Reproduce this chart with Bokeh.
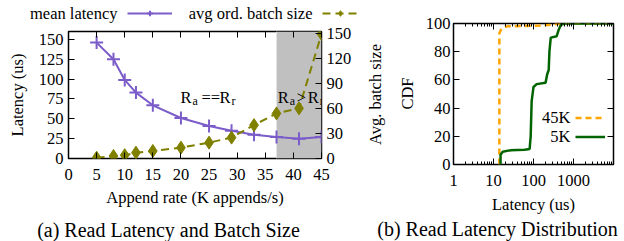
import math
from bokeh.plotting import figure
from bokeh.models import (Range1d, LinearAxis, LogAxis, BoxAnnotation, Span, Legend,
                          LegendItem, Label, FixedTicker, BasicTickFormatter)
from bokeh.layouts import column, row
from bokeh.embed import file_html
from bokeh.resources import INLINE

FONT = "Liberation Serif"
FS = "16.5px"
PURPLE = "#7b5cc9"
OLIVE = "#808000"
ORANGE = "#ffa500"
GREEN = "#006400"

# ---- data: (a) read latency & batch size ----
append_rate = [5, 8, 10, 12, 15, 20, 25, 29, 33, 37, 41, 45]
mean_latency = [146, 125, 99, 83, 67, 51, 41, 35, 30, 27, 25, 27]
batch_size = [1, 3, 4, 7, 9, 13, 19, 25, 40, 54, 60, 149]
rate_ticks = [0, 5, 10, 15, 20, 25, 30, 35, 40, 45]
latency_ticks = [0, 25, 50, 75, 100, 125, 150]
batch_ticks = [0, 30, 60, 90, 120, 150]
shade_start, shade_end = 37, 45

# ---- data: (b) read latency distribution ----
lat_45k = [14, 14, 15, 17, 22, 60, 150, 300, 450, 10000]
cdf_45k = [0, 93, 95, 97, 98, 98.3, 98.6, 99.3, 100, 100]
lat_5k = [15, 15, 17, 25, 60, 80, 85, 90, 100, 120, 200, 220, 240, 250, 270, 380, 420, 480, 600, 10000]
cdf_5k = [0, 7, 9, 10, 10.5, 11, 20, 45, 55, 57, 58, 64, 67, 80, 90, 91, 95, 99, 100, 100]
cdf_ticks = [0, 20, 40, 60, 80, 100]
dist_ticks = [1, 10, 100, 1000]
dist_minor = [m * d for d in (1, 10, 100, 1000) for m in range(2, 10)]

NAN = [float("nan")]   # legend-only renderers draw nothing themselves


def style_axis(ax, show_labels=True):
    ax.axis_line_color = None
    ax.major_tick_in = 6
    ax.major_tick_out = 0
    ax.minor_tick_in = 3
    ax.minor_tick_out = 0
    ax.major_tick_line_color = "black"
    ax.minor_tick_line_color = "black"
    ax.major_label_text_font = FONT
    ax.major_label_text_font_size = FS if show_labels else "1px"
    ax.major_label_text_color = "black"
    ax.axis_label_text_font = FONT
    ax.axis_label_text_font_size = FS
    ax.axis_label_text_font_style = "normal"
    ax.axis_label_text_color = "black"
    if not show_labels:
        ax.major_label_standoff = 0
        ax.major_label_text_alpha = 0


def style_fig(p):
    p.grid.visible = False
    p.outline_line_color = "black"
    p.outline_line_width = 1.5
    p.background_fill_color = "white"
    p.border_fill_color = "white"


def plain_fig(w, h):
    f = figure(width=w, height=h, x_range=Range1d(0, 1), y_range=Range1d(0, 1),
               output_backend="svg", toolbar_location=None, min_border=0,
               x_axis_location=None, y_axis_location=None)
    f.grid.visible = False
    f.outline_line_color = None
    return f


def txt(p, x, y, s, align="right", size=FS, units="screen", xo=0, yo=0,
        baseline="middle", angle=0.0):
    p.add_layout(Label(x=x, y=y, x_units=units, y_units=units, text=s,
                       text_align=align, text_baseline=baseline, text_font=FONT,
                       text_font_size=size, text_color="black",
                       x_offset=xo, y_offset=yo, angle=angle))


def sample_legend(items, loc, gw, gh):
    return Legend(items=items, location=loc, glyph_width=gw, glyph_height=gh,
                  label_width=1, label_standoff=0, padding=0, margin=0, spacing=0,
                  border_line_color=None, background_fill_alpha=0,
                  label_text_font_size="2px", label_text_alpha=0)


H = 218      # height of the chart row
TOP = 24     # legend strip above panel (a)

# ================= legend strip for (a) =================
ptop = plain_fig(360, TOP)
lg_lat_line = ptop.line(x=NAN, y=NAN, color=PURPLE, line_width=2)
lg_lat_pts = ptop.scatter(x=NAN, y=NAN, marker="cross", size=13, line_width=2, color=PURPLE)
lg_b_line = ptop.line(x=NAN, y=NAN, color=OLIVE, line_width=2, line_dash="8 5")
lg_b_pts = ptop.scatter(x=NAN, y=NAN, marker="diamond", size=13, color=OLIVE)
ptop.add_layout(sample_legend([LegendItem(label="x", renderers=[lg_lat_line, lg_lat_pts])],
                              (127, 4), 45, 14))
ptop.add_layout(sample_legend([LegendItem(label="x", renderers=[lg_b_line, lg_b_pts])],
                              (322, 4), 36, 14))
txt(ptop, 117, 11, "mean latency")
txt(ptop, 312, 11, "avg ord. batch size")

# ================= (a) =================
p1 = figure(width=360, height=H - TOP, x_range=Range1d(0, 45), y_range=Range1d(0, 160),
            output_backend="svg", toolbar_location=None,
            min_border_left=68, min_border_right=39, min_border_top=31 - TOP,
            min_border_bottom=H - 158)
style_fig(p1)
p1.extra_y_ranges = {"batch": Range1d(0, 152)}

p1.xaxis.ticker = FixedTicker(ticks=rate_ticks)
p1.xaxis.axis_label = "Append rate (K appends/s)"
p1.yaxis.ticker = FixedTicker(ticks=latency_ticks)
p1.yaxis.axis_label = "Latency (us)"
for ax in p1.xaxis + p1.yaxis:
    style_axis(ax)
    ax.minor_tick_line_color = None
p1.xaxis.major_label_standoff = 10
p1.xaxis.axis_label_standoff = 5
p1.yaxis.major_label_standoff = 5
p1.yaxis.axis_label_standoff = 9

ax_r = LinearAxis(y_range_name="batch", ticker=FixedTicker(ticks=batch_ticks))
style_axis(ax_r)
ax_r.minor_tick_line_color = None
ax_r.major_label_standoff = 5
p1.add_layout(ax_r, "right")

ax_t = LinearAxis(ticker=FixedTicker(ticks=rate_ticks))
style_axis(ax_t, show_labels=False)
ax_t.minor_tick_line_color = None
p1.add_layout(ax_t, "above")

p1.add_layout(BoxAnnotation(left=shade_start, right=shade_end, fill_color="#c0c0c0",
                            fill_alpha=1, line_color=None, level="underlay"))
p1.add_layout(Span(location=shade_start, dimension="height", line_color="#e6e6e6",
                   line_dash="3 3", line_width=1, level="underlay"))

p1.line(append_rate, mean_latency, color=PURPLE, line_width=2)
p1.scatter(append_rate, mean_latency, marker="cross", size=13, line_width=2, color=PURPLE)
p1.line(append_rate, batch_size, y_range_name="batch", color=OLIVE,
        line_width=2, line_dash="8 5")
p1.scatter(append_rate, batch_size, y_range_name="batch", marker="diamond",
           size=13, color=OLIVE)

# R_a == R_r  and  R_a > R_r
for (ax0, pieces) in [
    (19.9, [("R", 0, 0, FS), ("a", 12, -4, "12px"), ("==", 21, 0, FS),
            ("R", 39, 0, FS), ("r", 51, -4, "12px")]),
    (37.2, [("R", 0, 0, FS), ("a", 12, -4, "12px"), (">", 19, 0, FS),
            ("R", 30, 0, FS), ("r", 42, -4, "12px")]),
]:
    for (s, xo, yo, sz) in pieces:
        txt(p1, ax0, 77, s, align="left", size=sz, units="data", xo=xo, yo=yo,
            baseline="alphabetic")

# ================= middle strip: rotated axis titles =================
pmid = plain_fig(60, H)
txt(pmid, 15, H - 94, "Avg. batch size", align="center", angle=math.pi / 2)
txt(pmid, 47, H - 93, "CDF", align="center", angle=math.pi / 2)

# ================= (b) =================
p2 = figure(width=204, height=H, x_axis_type="log", x_range=Range1d(1, 10000),
            y_range=Range1d(0, 100), output_backend="svg", toolbar_location=None,
            min_border_left=33, min_border_right=11, min_border_top=23,
            min_border_bottom=H - 164)
style_fig(p2)
p2.xaxis.ticker = FixedTicker(ticks=dist_ticks, minor_ticks=dist_minor)
p2.xaxis.formatter = BasicTickFormatter(use_scientific=False)
p2.xaxis.axis_label = "Latency (us)"
p2.yaxis.ticker = FixedTicker(ticks=cdf_ticks)
for ax in p2.xaxis + p2.yaxis:
    style_axis(ax)
p2.yaxis.minor_tick_line_color = None
p2.xaxis.major_label_standoff = 10
p2.xaxis.axis_label_standoff = 6
p2.yaxis.major_label_standoff = 3

ax2t = LogAxis(ticker=FixedTicker(ticks=dist_ticks, minor_ticks=dist_minor))
style_axis(ax2t, show_labels=False)
p2.add_layout(ax2t, "above")
ax2r = LinearAxis(ticker=FixedTicker(ticks=cdf_ticks))
style_axis(ax2r, show_labels=False)
ax2r.minor_tick_line_color = None
p2.add_layout(ax2r, "right")

l45 = p2.line(lat_45k, cdf_45k, color=ORANGE, line_width=2.5, line_dash="6 4")
l5 = p2.line(lat_5k, cdf_5k, color=GREEN, line_width=2.5)

p2.add_layout(sample_legend([LegendItem(label="x", renderers=[l45]),
                             LegendItem(label="x", renderers=[l5])],
                            (122, 18), 30, 19))
txt(p2, 117, 47, "45K")
txt(p2, 117, 28, "5K")

# ================= captions =================
pcap = plain_fig(624, 241 - H)
txt(pcap, 168, 12, "(a) Read Latency and Batch Size", align="center", size="20px")
txt(pcap, 497, 13, "(b) Read Latency Distribution", align="center", size="20px")

# each plot sits alone in its own box so Bokeh does not align frames across them
layout = column(
    row(column(row(ptop), row(p1)), column(pmid), column(p2)),
    row(pcap),
)
open("out.html", "w").write(file_html(layout, INLINE))
